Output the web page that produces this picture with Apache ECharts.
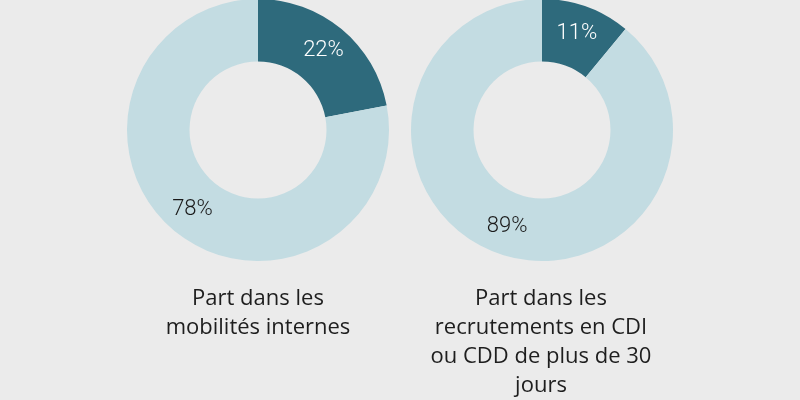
<!DOCTYPE html>
<html>
<head>
<meta charset="utf-8">
<script src="https://cdn.jsdelivr.net/npm/echarts@6/dist/echarts.min.js"></script>
<style>
  html, body { margin: 0; padding: 0; background: #ebebeb; }
  #chart { width: 800px; height: 400px; }
</style>
</head>
<body>
<div id="chart"></div>
<script>
// données
const sliceNames = ['Femmes', 'Autres']
const mobiliteValues = [22, 78]
const recrutementValues = [11, 89]
const chartTitles = [
  'Part dans les\nmobilités internes',
  'Part dans les\nrecrutements en CDI\nou CDD de plus de 30\njours'
]

const darkColor = '#2e6a7c'
const lightColor = '#c3dce2'

const makeData = (values) => values.map((v, i) => ({
  name: sliceNames[i],
  value: v,
  itemStyle: {color: i === 0 ? darkColor : lightColor},
  label: {color: i === 0 ? '#ffffff' : '#1a1a1a'}
}))

const makePie = (values, cx) => ({
  type: 'pie',
  center: [cx, 130],
  radius: [68.5, 131],
  startAngle: 90,
  clockwise: true,
  avoidLabelOverlap: false,
  silent: true,
  itemStyle: {borderWidth: 0},
  label: {
    show: true,
    position: 'inside',
    formatter: '{c}%',
    fontFamily: 'Roboto',
    fontWeight: 300,
    fontSize: 22
  },
  labelLine: {show: false},
  data: makeData(values)
})

const makeTitle = (text, cx) => ({
  text: text,
  left: cx,
  top: 284,
  padding: 0,
  textAlign: 'center',
  textStyle: {
    fontFamily: 'Open Sans',
    fontWeight: 400,
    fontSize: 22,
    lineHeight: 29,
    color: '#1e1e1e'
  }
})

const chart = echarts.init(document.getElementById('chart'))
chart.setOption({
  backgroundColor: '#ebebeb',
  animation: false,
  title: [
    makeTitle(chartTitles[0], 258),
    makeTitle(chartTitles[1], 541)
  ],
  series: [
    makePie(mobiliteValues, 258),
    makePie(recrutementValues, 542)
  ]
})
</script>
</body>
</html>
